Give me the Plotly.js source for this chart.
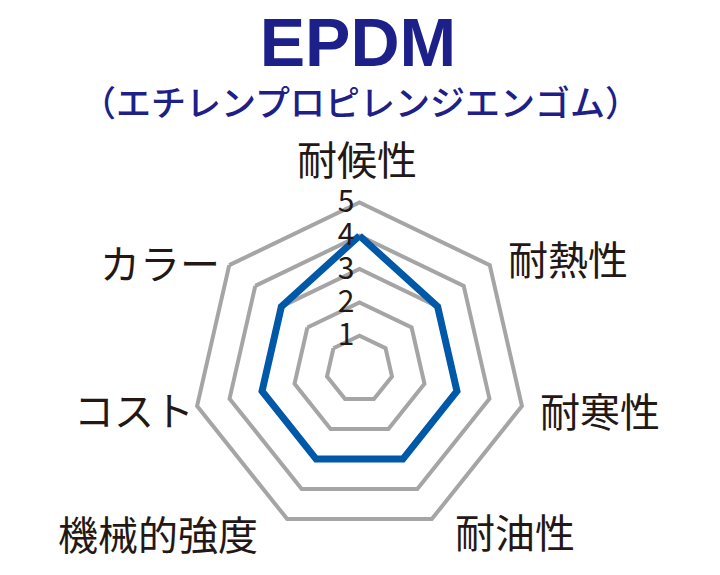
<!DOCTYPE html>
<html>
<head>
<meta charset="utf-8">
<script src="https://cdn.plot.ly/plotly-3.0.1.min.js"></script>
<style>html,body{margin:0;padding:0;background:#fff;}#chart{width:720px;height:575px;}</style>
</head>
<body>
<div id="chart"></div>
<script>
// ---- data ----
const categories = ['耐候性', '耐熱性', '耐寒性', '耐油性', '機械的強度', 'コスト', 'カラー'];
const values = [4, 3, 3, 3, 3, 3, 3];
const radialTicks = [1, 2, 3, 4, 5];
const titleText = 'EPDM';
const subtitleText = '（エチレンプロピレンジエンゴム）';

// ---- layout helpers (label placement, pixel coords) ----
const W = 720, H = 575;
const labelPos = [[357, 158], [568, 258], [600, 410], [515, 531], [158, 533], [134, 409], [160, 262]];
const jp = '"Noto Sans CJK JP", "Noto Sans", sans-serif';
const ink = '#231815';
const navy = '#1d2088';
const grey = '#a5a5a5';

const cx = 359.5, cy = 369, R = 166.6;

const trace = {
  type: 'scatterpolar',
  r: values.concat([values[0]]),
  theta: categories.concat([categories[0]]),
  mode: 'lines',
  line: {color: '#0058a8', width: 7},
  hoverinfo: 'skip'
};

const annotations = categories.map((c, i) => ({
  text: c, x: labelPos[i][0] / W, y: 1 - labelPos[i][1] / H,
  xref: 'paper', yref: 'paper', xanchor: 'center', yanchor: 'middle',
  showarrow: false, font: {family: jp, size: 40, color: ink}
}));
annotations.push({
  text: subtitleText, x: 360 / W, y: 1 - 101 / H, xref: 'paper', yref: 'paper',
  xanchor: 'center', yanchor: 'middle', showarrow: false,
  font: {family: jp, size: 35, color: navy, weight: 500}
});

const layout = {
  width: W, height: H,
  margin: {l: 0, r: 0, t: 0, b: 0},
  paper_bgcolor: '#fff',
  showlegend: false,
  title: {
    text: '<b>' + titleText + '</b>',
    font: {family: '"Liberation Sans", Arial, sans-serif', size: 68, color: navy},
    x: 358 / W, xanchor: 'center', xref: 'paper',
    y: 1 - 42 / H, yanchor: 'middle', yref: 'container'
  },
  polar: {
    domain: {x: [(cx - R) / W, (cx + R) / W], y: [1 - (cy + R) / H, 1 - (cy - R) / H]},
    bgcolor: 'rgba(0,0,0,0)',
    gridshape: 'linear',
    angularaxis: {
      type: 'category',
      direction: 'clockwise',
      rotation: 90,
      showticklabels: false,
      ticks: '',
      showgrid: false,
      showline: true,
      linecolor: grey,
      linewidth: 4
    },
    radialaxis: {
      range: [0, 5],
      angle: 90,
      tickvals: radialTicks,
      ticktext: radialTicks.map(String),
      ticks: '',
      showline: false,
      gridcolor: grey,
      gridwidth: 4,
      side: 'counterclockwise',
      tickangle: 90,
      tickfont: {family: jp, size: 30, color: ink}
    }
  },
  annotations: annotations
};

Plotly.newPlot('chart', [trace], layout, {displayModeBar: false, staticPlot: true});
</script>
</body>
</html>
